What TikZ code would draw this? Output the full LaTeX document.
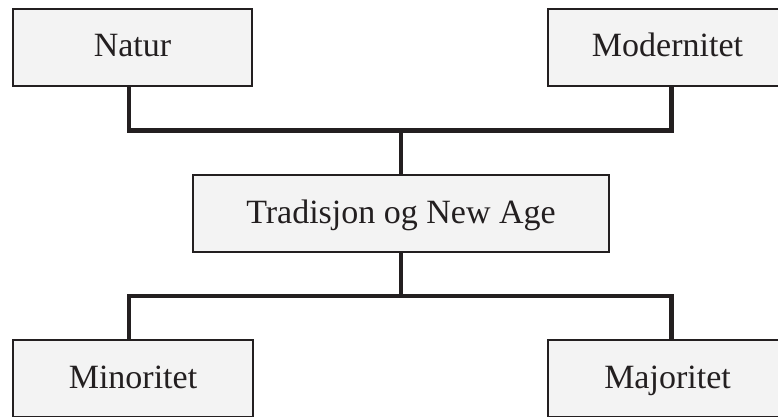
\documentclass[tikz,border=0pt]{standalone}
\usepackage{fontspec}
\setmainfont{Liberation Serif}
\usepackage{xcolor}
\usepackage{tikz}
\usetikzlibrary{positioning,backgrounds,calc}
\definecolor{boxfill}{RGB}{243,243,243}
\definecolor{ink}{RGB}{35,31,32}

\begin{document}
\begin{tikzpicture}[x=1pt,y=-1pt,font=\fontsize{34}{40}\selectfont,
  bx/.style={draw=ink,line width=2pt,fill=boxfill,minimum height=77pt,inner sep=0pt,
    text height=25pt,text depth=6pt,text=ink},
  ln/.style={draw=ink,line width=4.5pt,line join=miter}]
  \clip (0,0) rectangle (778,417);
  \node[bx,minimum width=239pt] (nat) at (132.5,47.5) {Natur};
  \node[bx,minimum width=239pt] (mod) at (667.5,47.5) {Modernitet};
  \node[bx,minimum width=416pt] (trad) at (401,213.5) {Tradisjon og New Age};
  \node[bx,minimum width=240pt] (min) at (133,378.5) {Minoritet};
  \node[bx,minimum width=240pt] (maj) at (667.5,378.5) {Majoritet};
  \coordinate (jt) at (401,130.5);
  \coordinate (jb) at (401,296);
  \begin{scope}[on background layer]
    \draw[ln] ([xshift=-3.5pt]nat.south) |- (jt) -| ([xshift=4pt]mod.south);
    \draw[ln] (jt) -- (trad.north);
    \draw[ln] (trad.south) -- (jb);
    \draw[ln] ([xshift=-4pt]min.north) |- (jb) -| ([xshift=4pt]maj.north);
  \end{scope}
\end{tikzpicture}
\end{document}
